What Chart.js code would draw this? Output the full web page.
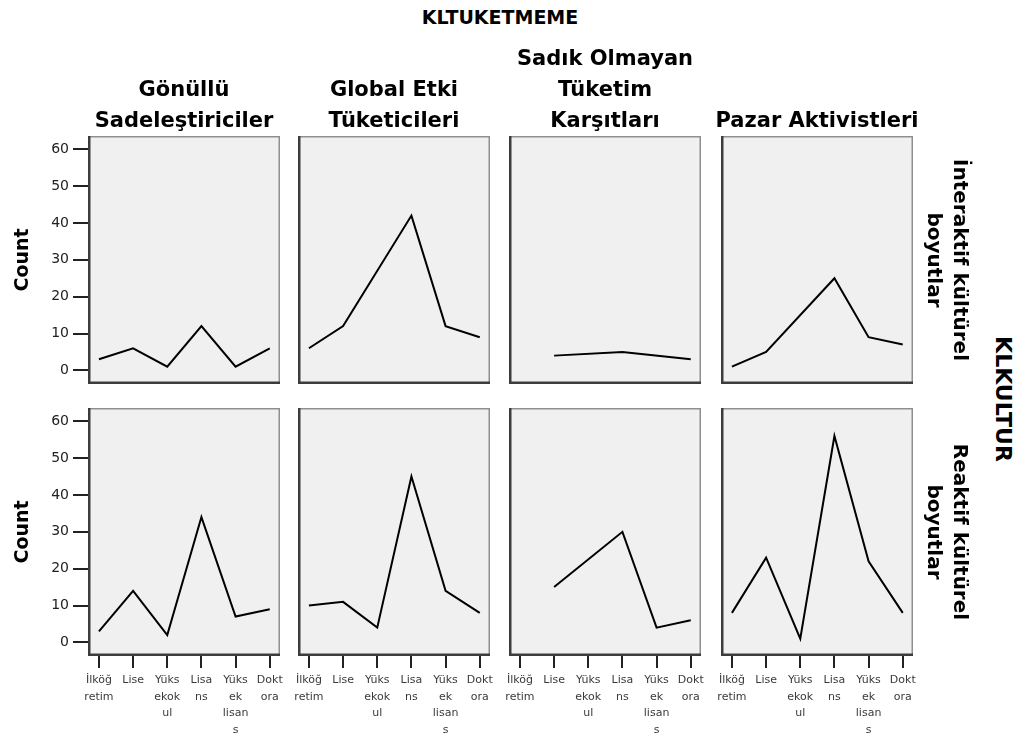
<!DOCTYPE html>
<html>
<head>
<meta charset="utf-8">
<script src="https://cdn.jsdelivr.net/npm/chart.js@4/dist/chart.umd.min.js"></script>
<style>
  html, body { margin: 0; padding: 0; background: #fff; }
  body { position: relative; width: 1026px; height: 740px; overflow: hidden;
         font-family: "DejaVu Sans", "Liberation Sans", Arial, sans-serif; }
  .lbl { position: absolute; font-weight: bold; color: #000; white-space: pre;
         text-align: center; font-size: 19px; }
  .center { transform: translate(-50%, -50%); }
  .head { transform: translate(-50%, -100%); line-height: 31px; font-size: 21px; }
  .rot { transform: translate(-50%, -50%) rotate(90deg); line-height: 26px; font-size: 20px; }
  .big { font-size: 22px; }
  canvas { position: absolute; }
</style>
</head>
<body>
<script>
// Education level categories (wrapped the way the axis prints them)
const educationLevels = [["İlköğ", "retim"], ["Lise"], ["Yüks", "ekok", "ul"], ["Lisa", "ns"], ["Yüks", "ek", "lisan", "s"], ["Dokt", "ora"]];
// Column facets: consumption-resistance groups
const consumerGroups = ["Gönüllü\nSadeleştiriciler", "Global Etki\nTüketicileri", "Sadık Olmayan\nTüketim\nKarşıtları", "Pazar Aktivistleri"];
// Row facets: cultural dimensions
const cultureDims = ["İnteraktif kültürel\nboyutlar", "Reaktif kültürel\nboyutlar"];
const countTicks = [0, 10, 20, 30, 40, 50, 60];

// Counts per education level (null = category absent in that cell)
const interaktifGonullu = [3, 6, 1, 12, 1, 6];
const interaktifGlobal  = [6, 12, null, 42, 12, 9];
const interaktifSadik   = [null, 4, null, 5, null, 3];
const interaktifPazar   = [1, 5, null, 25, 9, 7];
const reaktifGonullu    = [3, 14, 2, 34, 7, 9];
const reaktifGlobal     = [10, 11, 4, 45, 14, 8];
const reaktifSadik      = [null, 15, null, 30, 4, 6];
const reaktifPazar      = [8, 23, 1, 56, 22, 8];

const cells = [
  [interaktifGonullu, interaktifGlobal, interaktifSadik, interaktifPazar],
  [reaktifGonullu, reaktifGlobal, reaktifSadik, reaktifPazar]
];

// Panel geometry
const colLeft = [88, 298, 509, 721];
const panelW = 192;
const rowTop = [136, 408];
const panelH = 248;
const yAxisW = 88;
const xAxisH = 84;
const PAD = 20;

// Grey plot background with an inset-style frame
const panelFrame = {
  id: 'panelFrame',
  beforeDatasetsDraw(chart) {
    const { ctx, chartArea: a } = chart;
    ctx.save();
    ctx.fillStyle = '#f0f0f0';
    ctx.fillRect(a.left, a.top, a.right - a.left, a.bottom - a.top);
    ctx.restore();
  },
  afterDatasetsDraw(chart) {
    const { ctx, chartArea: a } = chart;
    ctx.save();
    ctx.strokeStyle = '#8f8f8f';
    ctx.lineWidth = 1.5;
    ctx.strokeRect(a.left + 0.75, a.top + 0.75, a.right - a.left - 1.5, a.bottom - a.top - 1.5);
    ctx.strokeStyle = '#3c3c3c';
    ctx.lineWidth = 2.5;
    ctx.beginPath();
    ctx.moveTo(a.left + 1.25, a.top);
    ctx.lineTo(a.left + 1.25, a.bottom - 1.25);
    ctx.lineTo(a.right, a.bottom - 1.25);
    ctx.stroke();
    ctx.restore();
  }
};

function addLabel(text, x, y, cls) {
  const d = document.createElement('div');
  d.className = 'lbl ' + cls;
  d.textContent = text;
  d.style.left = x + 'px';
  d.style.top = y + 'px';
  document.body.appendChild(d);
}

function makePanel(row, col) {
  const showY = col === 0;
  const showX = row === 1;
  const padL = showY ? 0 : PAD;
  const padB = showX ? 0 : PAD;
  const left = colLeft[col] - (showY ? yAxisW : PAD);
  const top = rowTop[row] - PAD;
  const width = (showY ? yAxisW : PAD) + panelW + PAD;
  const height = PAD + panelH + (showX ? xAxisH : PAD);

  const cv = document.createElement('canvas');
  cv.width = width; cv.height = height;
  cv.style.left = left + 'px'; cv.style.top = top + 'px';
  cv.style.width = width + 'px'; cv.style.height = height + 'px';
  document.body.appendChild(cv);

  const values = cells[row][col];
  new Chart(cv, {
    type: 'line',
    data: {
      datasets: [{
        data: values.map((v, i) => ({ x: i, y: v })),
        borderColor: '#000',
        borderWidth: 2,
        pointRadius: 0,
        tension: 0,
        spanGaps: true,
        fill: false
      }]
    },
    options: {
      responsive: false,
      animation: false,
      devicePixelRatio: 1,
      layout: { padding: { left: padL, right: PAD, top: PAD, bottom: padB } },
      plugins: { legend: { display: false }, tooltip: { enabled: false } },
      scales: {
        x: {
          type: 'linear',
          min: -0.32, max: 5.3,
          display: showX,
          afterBuildTicks: s => { s.ticks = educationLevels.map((_, i) => ({ value: i })); },
          afterFit: s => { if (showX) s.height = xAxisH; },
          ticks: {
            callback: v => educationLevels[v],
            font: { family: '"DejaVu Sans", sans-serif', size: 11, lineHeight: 1.5 },
            color: '#3a3a3a',
            maxRotation: 0, minRotation: 0, autoSkip: false, padding: 4
          },
          grid: { drawOnChartArea: false, tickLength: 12, color: '#222', lineWidth: 2 },
          border: { display: false }
        },
        y: {
          min: -3.7, max: 63.6,
          display: showY,
          afterBuildTicks: s => { s.ticks = countTicks.map(v => ({ value: v })); },
          afterFit: s => { if (showY) s.width = yAxisW; },
          ticks: {
            font: { family: '"DejaVu Sans", sans-serif', size: 14 },
            color: '#222', padding: 4
          },
          grid: { drawOnChartArea: false, tickLength: 15, color: '#222', lineWidth: 2 },
          border: { display: false },
          title: {
            display: true, text: 'Count', color: '#000',
            font: { family: '"DejaVu Sans", sans-serif', size: 19, weight: 'bold' },
            padding: { top: 12, bottom: 0 }
          }
        }
      }
    },
    plugins: [panelFrame]
  });
}

for (let r = 0; r < 2; r++) for (let c = 0; c < 4; c++) makePanel(r, c);

// Titles and facet strip labels
addLabel('KLTUKETMEME', 500, 17, 'center');
consumerGroups.forEach((g, c) => addLabel(g, colLeft[c] + panelW / 2, 136, 'head'));
cultureDims.forEach((d, r) => addLabel(d, 948, rowTop[r] + panelH / 2, 'rot'));
addLabel('KLKULTUR', 1003, 399, 'rot big');
</script>
</body>
</html>
